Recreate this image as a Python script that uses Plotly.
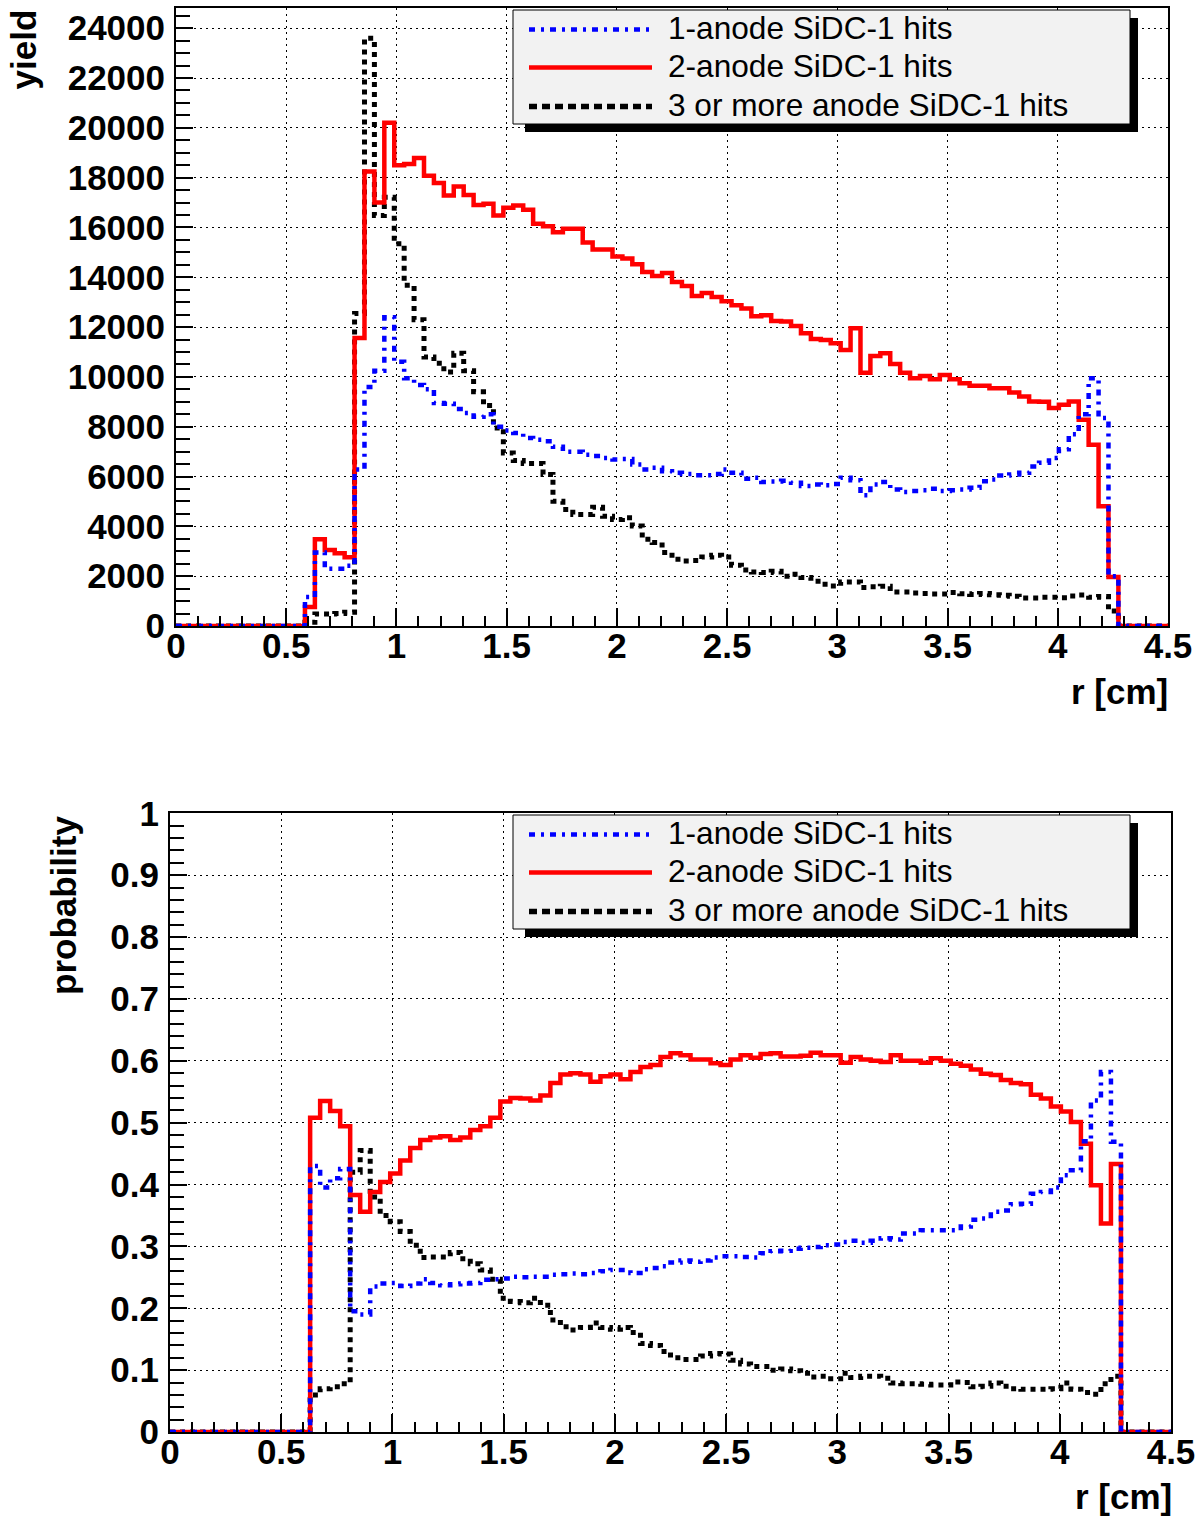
import numpy as np
import plotly.graph_objects as go

# ---------------- data ----------------
n_bins = 100
r_min, r_max = 0.0, 4.5

Z13 = [0] * 13
Z14 = [0] * 14
Z5 = [0] * 5

# top panel: yield per bin (bins 0..99, width 0.045 cm)
yield_1anode = Z13 + [
    1160, 2950, 2300, 2300, 2420, 6280, 9600, 10250, 12400, 10610,
    9950, 9680, 9510, 8950, 8920, 8710, 8550, 8400, 8500, 8000,
    7850, 7750, 7550, 7480, 7420, 7200, 7000, 7000, 6880, 6830,
    6750, 6680, 6700, 6480, 6280, 6350, 6210, 6150, 6100, 6050,
    6050, 6100, 6280, 6150, 5910, 5950, 5780, 5800, 5830, 5750,
    5620, 5680, 5650, 5700, 5950, 5850, 5250, 5680, 5780, 5480,
    5380, 5420, 5450, 5510, 5420, 5450, 5480, 5550, 5810, 5880,
    6040, 6080, 6150, 6400, 6550, 6750, 7100, 7700, 8500, 9950,
    8350, 2000] + Z5

yield_2anode = Z13 + [
    760, 3480, 3050, 2920, 2760, 11560, 18250, 17000, 20200, 18500,
    18550, 18790, 18080, 17790, 17280, 17650, 17300, 16900, 16950, 16480,
    16790, 16880, 16710, 16150, 16050, 15810, 15950, 15950, 15400, 15120,
    15120, 14840, 14750, 14520, 14210, 14050, 14170, 13810, 13650, 13250,
    13370, 13210, 13040, 12880, 12750, 12440, 12480, 12250, 12230, 12040,
    11750, 11520, 11480, 11350, 11080, 11950, 10170, 10840, 10950, 10520,
    10170, 9950, 10040, 9910, 10080, 9910, 9750, 9650, 9650, 9550,
    9550, 9370, 9210, 9010, 9000, 8750, 8880, 9010, 8280, 7280,
    4810, 1970] + Z5

yield_3plus = Z13 + [
    150, 480, 480, 500, 550, 12550, 23600, 16480, 17210, 15350,
    13680, 12300, 10800, 10550, 10200, 10950, 10250, 9400, 8850, 7950,
    6950, 6640, 6520, 6520, 6080, 5010, 4680, 4480, 4480, 4770,
    4410, 4280, 4350, 4010, 3480, 3350, 2950, 2680, 2610, 2630,
    2770, 2840, 2770, 2440, 2250, 2170, 2150, 2200, 2000, 2080,
    1950, 1800, 1680, 1610, 1770, 1770, 1550, 1580, 1600, 1370,
    1370, 1320, 1300, 1280, 1280, 1340, 1290, 1260, 1300, 1250,
    1230, 1190, 1120, 1120, 1150, 1150, 1130, 1200, 1240, 1150,
    1180, 600] + Z5

# bottom panel: probability per bin
prob_1anode = Z14 + [
    0.430, 0.395, 0.410, 0.425, 0.195, 0.190, 0.235, 0.240, 0.241, 0.236,
    0.240, 0.247, 0.241, 0.237, 0.239, 0.240, 0.241, 0.246, 0.247, 0.248,
    0.251, 0.250, 0.251, 0.251, 0.254, 0.255, 0.256, 0.255, 0.257, 0.260,
    0.262, 0.262, 0.257, 0.263, 0.265, 0.268, 0.274, 0.277, 0.275, 0.277,
    0.282, 0.284, 0.284, 0.283, 0.282, 0.289, 0.292, 0.293, 0.296, 0.298,
    0.299, 0.302, 0.303, 0.307, 0.309, 0.306, 0.309, 0.313, 0.311, 0.321,
    0.321, 0.326, 0.326, 0.326, 0.326, 0.332, 0.343, 0.345, 0.356, 0.358,
    0.368, 0.369, 0.385, 0.388, 0.395, 0.415, 0.423, 0.470, 0.536, 0.582,
    0.469] + Z5

prob_2anode = Z14 + [
    0.508, 0.535, 0.519, 0.494, 0.383, 0.356, 0.388, 0.404, 0.418, 0.439,
    0.459, 0.472, 0.476, 0.478, 0.472, 0.476, 0.488, 0.494, 0.508, 0.534,
    0.540, 0.539, 0.536, 0.544, 0.564, 0.578, 0.580, 0.578, 0.566, 0.575,
    0.578, 0.570, 0.582, 0.590, 0.593, 0.606, 0.612, 0.609, 0.602, 0.602,
    0.596, 0.593, 0.602, 0.609, 0.605, 0.611, 0.612, 0.607, 0.607, 0.608,
    0.613, 0.609, 0.609, 0.597, 0.606, 0.602, 0.600, 0.598, 0.609, 0.600,
    0.600, 0.597, 0.604, 0.600, 0.595, 0.592, 0.586, 0.579, 0.577, 0.569,
    0.564, 0.562, 0.545, 0.539, 0.526, 0.518, 0.501, 0.466, 0.399, 0.337,
    0.433] + Z5

prob_3plus = Z14 + [
    0.060, 0.070, 0.073, 0.078, 0.420, 0.455, 0.380, 0.350, 0.340, 0.324,
    0.302, 0.282, 0.283, 0.283, 0.290, 0.280, 0.272, 0.262, 0.247, 0.216,
    0.211, 0.209, 0.216, 0.205, 0.181, 0.170, 0.165, 0.169, 0.176, 0.169,
    0.166, 0.169, 0.161, 0.143, 0.140, 0.130, 0.120, 0.117, 0.117, 0.123,
    0.127, 0.126, 0.116, 0.110, 0.106, 0.106, 0.100, 0.102, 0.099, 0.095,
    0.089, 0.090, 0.086, 0.095, 0.088, 0.090, 0.090, 0.087, 0.079, 0.078,
    0.078, 0.077, 0.076, 0.076, 0.081, 0.080, 0.073, 0.074, 0.079, 0.074,
    0.070, 0.069, 0.069, 0.069, 0.070, 0.079, 0.069, 0.064, 0.061, 0.078,
    0.090] + Z5

legend_labels = ["1-anode SiDC-1 hits", "2-anode SiDC-1 hits",
                 "3 or more anode SiDC-1 hits"]

# ---------------- styling ----------------
W, H = 1204, 1516
BLUE, RED, BLACK = "#0000ff", "#ff0000", "#000000"
DASH_BLUE = "6px,6px,3px,6px"
DASH_BLACK = "5px,5px"
FONT = "Liberation Sans, Arial, Helvetica, sans-serif"

edges = np.linspace(r_min, r_max, n_bins + 1)


def step(vals):
    return list(edges), list(vals) + [vals[-1]]


fig = go.Figure()

series = [
    (yield_3plus, prob_3plus, BLACK, DASH_BLACK, 5, legend_labels[2]),
    (yield_2anode, prob_2anode, RED, "solid", 4.5, legend_labels[1]),
    (yield_1anode, prob_1anode, BLUE, DASH_BLUE, 4.5, legend_labels[0]),
]
for top_vals, bot_vals, col, dash, lw, name in series:
    x, y = step(top_vals)
    fig.add_trace(go.Scatter(x=x, y=y, mode="lines", line_shape="hv", name=name,
                             line=dict(color=col, width=lw, dash=dash),
                             xaxis="x", yaxis="y", showlegend=False))
    x, y = step(bot_vals)
    fig.add_trace(go.Scatter(x=x, y=y, mode="lines", line_shape="hv", name=name,
                             line=dict(color=col, width=lw, dash=dash),
                             xaxis="x2", yaxis="y2", showlegend=False))

tickfont = dict(family=FONT, size=35, color="black", weight="bold")
common = dict(showline=True, linecolor="black", linewidth=2, mirror=True,
              ticks="inside", tickcolor="black", tickwidth=1.5,
              showgrid=True, gridcolor="black", gridwidth=1, griddash="2px,4px",
              zeroline=False, tickfont=tickfont, fixedrange=True,
              automargin=False)


def xax(domain, anchor):
    return dict(common, domain=domain, anchor=anchor, range=[r_min, r_max],
                tick0=0, dtick=0.5, ticklen=18, ticklabelstandoff=-12,
                minor=dict(tick0=0, dtick=0.1, ticks="inside", ticklen=10,
                           tickwidth=1.5, tickcolor="black", showgrid=False))


def yax(domain, anchor, rng, dtick, mdtick, fmt):
    return dict(common, domain=domain, anchor=anchor, range=rng,
                tick0=0, dtick=dtick, ticklen=17, tickformat=fmt,
                ticklabelstandoff=2,
                minor=dict(tick0=0, dtick=mdtick, ticks="inside", ticklen=14,
                           tickwidth=1.5, tickcolor="black", showgrid=False))


fig.update_layout(
    width=W, height=H, margin=dict(l=0, r=0, t=0, b=0, autoexpand=False),
    paper_bgcolor="white", plot_bgcolor="white", showlegend=False,
    xaxis=xax([176 / W, 1168 / W], "y"),
    yaxis=yax([1 - 626 / H, 1 - 8.3 / H], "x", [0, 24800], 2000, 500, "d"),
    xaxis2=xax([170 / W, 1171 / W], "y2"),
    yaxis2=yax([1 - 1432 / H, 1 - 813.3 / H], "x2", [0, 1], 0.1, 0.02, ""),
)

shapes = []
annotations = []


def px(xp, yp):
    return xp / W, 1 - yp / H


def add_legend(dy):
    # shadow
    x0, y0 = px(525, 18 + dy)
    x1, y1 = px(1138, 132 + dy)
    shapes.append(dict(type="rect", xref="paper", yref="paper", x0=x0, x1=x1,
                       y0=y1, y1=y0, fillcolor="black", line=dict(width=0),
                       layer="above"))
    x0, y0 = px(513, 10 + dy)
    x1, y1 = px(1130, 124 + dy)
    shapes.append(dict(type="rect", xref="paper", yref="paper", x0=x0, x1=x1,
                       y0=y1, y1=y0, fillcolor="#f2f2f2",
                       line=dict(color="black", width=1), layer="above"))
    rows = [(legend_labels[0], BLUE, DASH_BLUE, 4.5, 29.5, 28),
            (legend_labels[1], RED, "solid", 4.5, 67.5, 66),
            (legend_labels[2], BLACK, "8px,5px", 5.5, 106.5, 104.5)]
    for text, col, dash, lw, yl, yt in rows:
        xa, ya = px(529, yl + dy)
        xb, _ = px(652, yl + dy)
        shapes.append(dict(type="line", xref="paper", yref="paper", x0=xa, x1=xb,
                           y0=ya, y1=ya, line=dict(color=col, width=lw, dash=dash),
                           layer="above"))
        tx, ty = px(666, yt + dy)
        annotations.append(dict(text=text, x=tx, y=ty, xref="paper", yref="paper",
                                xanchor="left", yanchor="middle", showarrow=False,
                                font=dict(family=FONT, size=31.6, color="black")))


add_legend(0)
add_legend(805)

title_font = dict(family=FONT, size=35, color="black", weight="bold")
for text, xp, yp, xa, ya, ang in [
    ("yield", 23.5, 50, "center", "middle", -90),
    ("r [cm]", 1170, 691, "right", "middle", 0),
    ("probability", 63, 906, "center", "middle", -90),
    ("r [cm]", 1174, 1496, "right", "middle", 0),
]:
    x, y = px(xp, yp)
    annotations.append(dict(text=text, x=x, y=y, xref="paper", yref="paper",
                            xanchor=xa, yanchor=ya, textangle=ang, showarrow=False,
                            font=title_font))

fig.update_layout(shapes=shapes, annotations=annotations)
fig.write_html("out.html")
